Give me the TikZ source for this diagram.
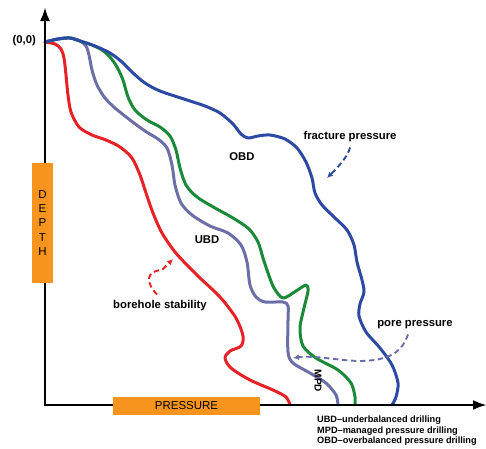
\documentclass[tikz,border=0pt]{standalone}
\usepackage{fontspec}
\setmainfont{Liberation Sans}
\usepackage{pgf,tikz}
\usepackage{tkz-euclide}
\usepackage{xcolor}
\usetikzlibrary{arrows}
\usetikzlibrary{arrows.meta, calc}

\definecolor{obdblue}{RGB}{44,74,164}
\definecolor{mpdgreen}{RGB}{26,138,56}
\definecolor{ubdpurple}{RGB}{108,110,168}
\definecolor{holered}{RGB}{230,34,38}
\definecolor{axisorange}{RGB}{247,148,30}

\tikzset{
  curve/.style={line width=3pt, line cap=round, line join=round},
  axis/.style={line width=2.7pt, -{Latex[length=14pt,width=10pt]}},
  lbl/.style={font=\fontsize{11.3}{13}\selectfont\bfseries, inner sep=1pt},
  axisbox/.style={fill=axisorange, inner sep=0pt, font=\fontsize{11.5}{14.2}\selectfont},
  hint/.style={line width=1.9pt, dash pattern=on 5.5pt off 3.5pt, -{Latex[length=6pt,width=6pt]}}
}

\begin{document}
\begin{tikzpicture}[x=1pt,y=-1pt]
\useasboundingbox (0,0) rectangle (486,448);
\tkzDefPoint(45,42){O}
\tkzDefPoint(45,405){C}
\tkzDefPoint(45,7){Ytip}
\tkzDefPoint(487,405){Xtip}
\tkzDefPoint(327,178){fracTip}
\tkzDefPoint(293,358){poreTip}
\tkzDefPoint(173,259){holeTip}

\draw[curve, holered] plot[smooth] coordinates {(45,42) (55,44) (61,49) (64,58) (66,75)
  (68,95) (71,112) (79,127) (92,135) (106,140) (120,147) (132,158) (140,175)
  (146,193) (153,213) (162,233) (175,252) (188,266) (200,278) (220,297) (236,318)
  (243,336) (241,346) (230,351) (225,358) (231,368) (250,380) (273,390) (286,397) (290,405)};
\draw[curve, ubdpurple] plot[smooth] coordinates {(45,42) (58,39) (70,38) (80,41) (86,46)
  (89,55) (92,70) (97,85) (105,98) (115,108) (130,120) (145,131) (158,139) (167,148)
  (172,165) (175,185) (181,203) (192,215) (210,226) (228,233) (241,245) (247,262)
  (250,285) (256,297) (265,302) (283,302) (288,306) (288,320) (288,352) (293,363)
  (310,373) (326,383) (336,395) (338,405)};
\draw[curve, mpdgreen] plot[smooth] coordinates {(45,42) (58,39) (70,38) (80,41) (92,45)
  (102,50) (110,57) (117,67) (123,80) (128,97) (135,110) (147,120) (160,127) (170,136)
  (176,150) (180,168) (186,185) (197,197) (215,208) (233,218) (249,229) (258,242)
  (263,258) (268,273) (274,288) (283,298) (296,291) (306,285) (308,291) (304,308)
  (300,328) (303,346) (316,358) (338,370) (351,383) (355,397) (355,405)};
\draw[curve, obdblue] plot[smooth] coordinates {(45,42) (58,39) (70,38) (80,41) (95,46)
  (110,53) (122,62) (133,73) (145,83) (160,91) (187,100) (205,106) (220,113) (233,124)
  (241,134) (248,138) (258,136) (270,135) (285,139) (297,148) (306,162) (312,178)
  (315,193) (322,205) (334,217) (347,230) (354,245) (357,262) (362,280) (364,292)
  (360,304) (359,316) (366,332) (380,348) (392,365) (398,383) (396,397) (392,405)};

\tkzDrawSegments[axis](C,Ytip C,Xtip)

\node[axisbox, minimum width=21pt, minimum height=120pt, align=center] (depth) at (42.5,223) {D\\E\\P\\T\\H};
\node[axisbox, minimum width=147pt, minimum height=18pt] (pressure) at (186.5,406) {PRESSURE};

\node[lbl, anchor=east] (orig) at (37,41) {(0,0)};
\node[lbl] (obd) at (242,157) {OBD};
\node[lbl] (ubd) at (207,240) {UBD};
\node[lbl, rotate=-90, font=\fontsize{10}{12}\selectfont\bfseries] (mpd) at (318,381) {MPD};
\node[lbl] (frac) at (350,137) {fracture pressure};
\node[lbl] (pore) at (415,325) {pore pressure};
\node[lbl] (hole) at (160,306) {borehole stability};
\node[lbl, anchor=north west, align=left, inner sep=0pt, font=\fontsize{9.2}{10.5}\selectfont\bfseries] (legend) at (317,416)
  {UBD--underbalanced drilling\\MPD--managed pressure drilling\\OBD--overbalanced pressure drilling};

\draw[hint, obdblue] ([yshift=-4pt]frac.south) .. controls (348,156) and (340,165) .. (fracTip);
\draw[hint, ubdpurple] ([xshift=-7pt,yshift=-4pt]pore.south) .. controls (402,352) and (390,360) .. (362,361)
  .. controls (340,361) and (315,355) .. (poreTip);
\draw[hint, holered] ([xshift=-3pt,yshift=5pt]hole.north) .. controls (146,283) and (145,271) .. (162,270) -- (holeTip);
\end{tikzpicture}
\end{document}
